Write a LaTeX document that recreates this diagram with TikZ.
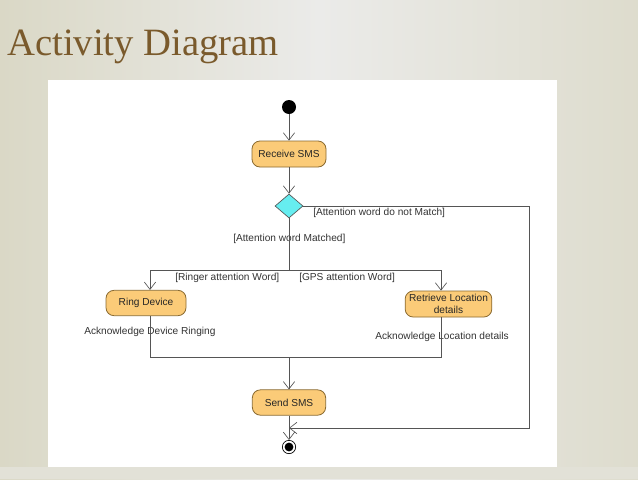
\documentclass[tikz,border=0pt]{standalone}
\usepackage{fontspec}
\setmainfont{Liberation Serif}
\setsansfont{Liberation Sans}
\usetikzlibrary{shapes.geometric,arrows.meta}
\definecolor{bgA}{HTML}{EBEBE9}
\definecolor{bgB}{HTML}{DAD8C6}
\definecolor{titlec}{HTML}{7A5A2C}
\definecolor{actfill}{HTML}{FBCB78}
\definecolor{actdraw}{HTML}{8A6A30}
\definecolor{decfill}{HTML}{66EDF0}
\definecolor{linec}{HTML}{555555}
\begin{document}
\begin{tikzpicture}[x=0.75pt,y=-0.75pt,
  act/.style={draw=actdraw,fill=actfill,rounded corners=6pt,line width=0.6pt,
    font=\sffamily\fontsize{7.6}{8.6}\selectfont,text=black!85,align=center,inner sep=1pt},
  dec/.style={diamond,draw=linec,fill=decfill,inner sep=0pt,minimum width=21pt,minimum height=18pt,line width=0.5pt},
  lbl/.style={font=\sffamily\fontsize{7.6}{8.6}\selectfont,text=black!80,inner sep=0pt,anchor=west},
  conn/.style={draw=linec,line width=0.5pt},
  arr/.style={conn,-{Straight Barb[length=5.5pt,width=8.5pt]}}]
% background
\useasboundingbox (0,0) rectangle (638,479);
\shade[left color=bgB,right color=bgB!80!bgA,middle color=bgA] (0,0) rectangle (638,479);
\fill[bgA!50!bgB] (0,467) rectangle (638,479);
\fill[white] (48,80) rectangle (557,467);
% title
\node[anchor=base west,inner sep=0pt,text=titlec,font=\fontsize{29}{31}\selectfont] (title) at (7,55) {Activity Diagram};
% nodes
\node[circle,fill=black,minimum size=10.5pt,inner sep=0pt] (start) at (289,107) {};
\node[act,minimum width=55.5pt,minimum height=19.5pt] (rsms) at (289,154) {Receive SMS};
\node[dec] (dc) at (289,206) {};
\node[act,minimum width=60pt,minimum height=19pt] (ring) at (146,303) {Ring Device};
\node[act,minimum width=65pt,minimum height=19.5pt] (ret) at (448.5,304) {Retrieve Location\\details};
\node[act,minimum width=55pt,minimum height=19pt] (send) at (289,402.5) {Send SMS};
\node[circle,draw=black,fill=white,minimum size=10pt,inner sep=0pt,line width=0.5pt] (fin) at (289,447) {};
\fill[black] (fin.center) circle (3.3pt);
% labels
\node[lbl] (l1) at (313,212.5) {[Attention word do not Match]};
\node[lbl] (l2) at (233,238.5) {[Attention word Matched]};
\node[lbl] (l3) at (175,277.5) {[Ringer attention Word]};
\node[lbl] (l4) at (299,277.5) {[GPS attention Word]};
\node[lbl] (l5) at (84,331.5) {Acknowledge Device Ringing};
\node[lbl] (l6) at (375,336.5) {Acknowledge Location details};
% coordinates
\coordinate (rc1) at (529,206);
\coordinate (rc2) at (529,428);
\coordinate (jn) at (289,428);
\coordinate (fk) at (289,270);
\coordinate (fl) at (150,270);
\coordinate (fr) at (441,270);
\coordinate (jl) at (150,357);
\coordinate (jr) at (441,357);
\coordinate (jm) at (289,357);
% connectors
\draw[arr] (start) -- (rsms);
\draw[arr] (rsms) -- (dc);
\draw[arr] (dc.east) -- (rc1) -- (rc2) -- (jn);
\draw[conn] (dc.south) -- (fk);
\draw[arr] (fk) -- (fl) -- (fl |- ring.north);
\draw[arr] (fk) -- (fr) -- (fr |- ret.north);
\draw[conn] (jl |- ring.south) -- (jl) -- (jr) -- (jr |- ret.south);
\draw[arr] (jm) -- (send);
\draw[arr] (send) -- (fin);
\end{tikzpicture}
\end{document}
